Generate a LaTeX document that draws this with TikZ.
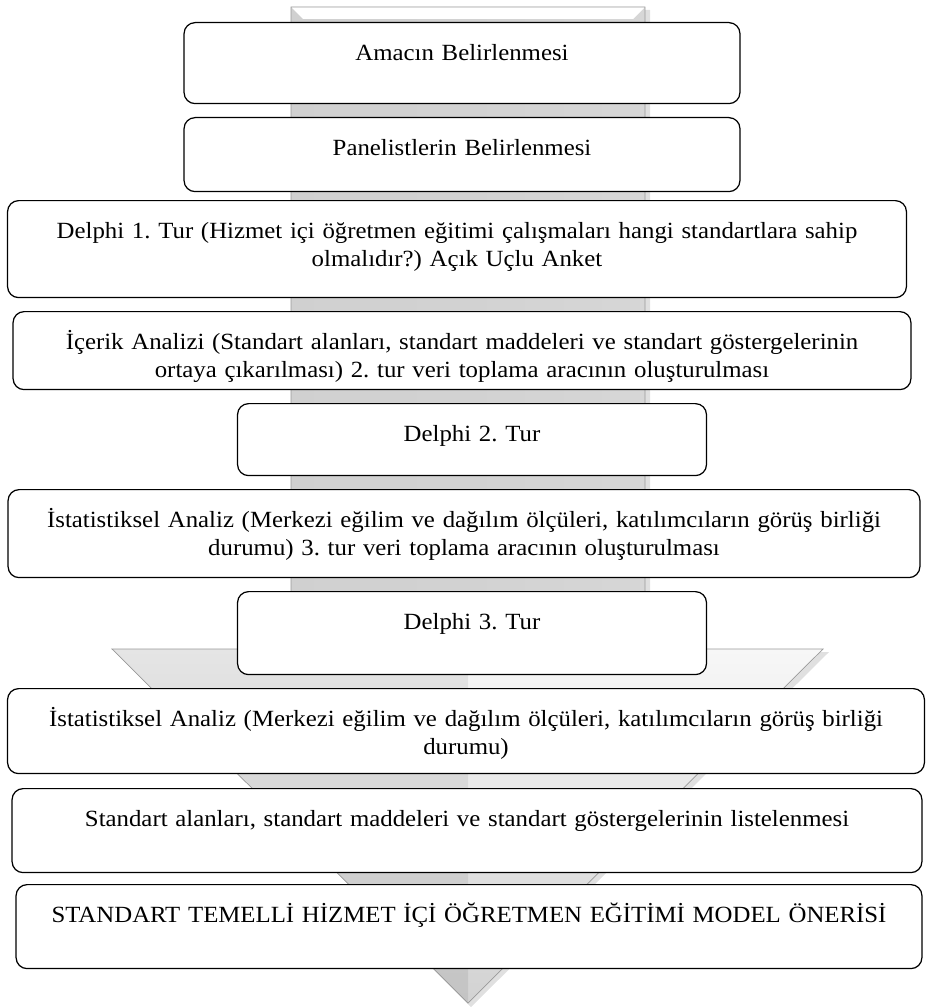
\documentclass[tikz,border=0pt]{standalone}
\usepackage{fontspec}
\setmainfont[FakeStretch=1.07]{Liberation Serif}
\usetikzlibrary{shadows}
\definecolor{arrgray}{HTML}{D2D2D2}
\definecolor{arrlight}{HTML}{F7F7F7}
\definecolor{arredge}{HTML}{9A9A9A}
\frenchspacing
\tikzset{
  stepbox/.style 2 args={draw=black, line width=0.7pt, rounded corners=0.22cm, fill=white,
    align=center, anchor=north, inner xsep=0pt, inner ysep=0pt,
    text width=#1, text height=0.76cm, text depth=#2,
    font=\fontsize{13.2}{15.9}\selectfont}
}

\begin{document}
\begin{tikzpicture}[x=0.02cm,y=-0.02cm]
  \useasboundingbox (0,0) rectangle (928,1007);
  \fill[black,opacity=0.12] (295,10) -- (650,10) -- (650,652) -- (829,652) -- (471,1007) -- (116,652) -- (295,652) -- cycle;
  \shade[left color=gray!38, right color=gray!28, middle color=arrgray] (291,7) -- (645,7) -- (645,649) -- (823,649) -- (468,1003) -- (112,649) -- (291,649) -- cycle;
  \shade[top color=arrlight, bottom color=gray!35] (112,649) -- (823,649) -- (468,1003) -- cycle;
  \fill[black,opacity=0.07] (112,649) -- (468,649) -- (468,1003) -- cycle;
  \fill[white] (291,7) -- (645,7) -- (633,19) -- (303,19) -- cycle;
  \draw[arredge,line width=0.4pt] (291,7) -- (645,7) -- (645,649) -- (823,649) -- (468,1003) -- (112,649) -- (291,649) -- cycle;

  \node[stepbox={11.12cm}{0.86cm}] (amac) at (462,22) {Amacın Belirlenmesi};
  \node[stepbox={11.12cm}{0.72cm}] (panel) at (462,117) {Panelistlerin Belirlenmesi};
  \node[stepbox={17.98cm}{1.18cm}] (delphi1) at (457,200) {Delphi 1. Tur (Hizmet içi öğretmen eğitimi çalışmaları hangi standartlara sahip\\olmalıdır?) Açık Uçlu Anket};
  \node[stepbox={17.96cm}{0.80cm}] (icerik) at (462,311) {İçerik Analizi (Standart alanları, standart maddeleri ve standart göstergelerinin\\ortaya çıkarılması) 2. tur veri toplama aracının oluşturulması};
  \node[stepbox={9.38cm}{0.68cm}] (delphi2) at (472,403) {Delphi 2. Tur};
  \node[stepbox={18.24cm}{1.00cm}] (istat1) at (464,489) {İstatistiksel Analiz (Merkezi eğilim ve dağılım ölçüleri, katılımcıların görüş birliği\\durumu) 3. tur veri toplama aracının oluşturulması};
  \node[stepbox={9.38cm}{0.90cm}] (delphi3) at (472,591) {Delphi 3. Tur};
  \node[stepbox={18.34cm}{0.94cm}] (istat2) at (466,688) {İstatistiksel Analiz (Merkezi eğilim ve dağılım ölçüleri, katılımcıların görüş birliği\\durumu)};
  \node[stepbox={18.2cm}{0.92cm}] (liste) at (467,788) {Standart alanları, standart maddeleri ve standart göstergelerinin listelenmesi};
  \node[stepbox={18.12cm}{0.92cm}] (model) at (469,884) {STANDART TEMELLİ HİZMET İÇİ ÖĞRETMEN EĞİTİMİ MODEL ÖNERİSİ};
\end{tikzpicture}
\end{document}
